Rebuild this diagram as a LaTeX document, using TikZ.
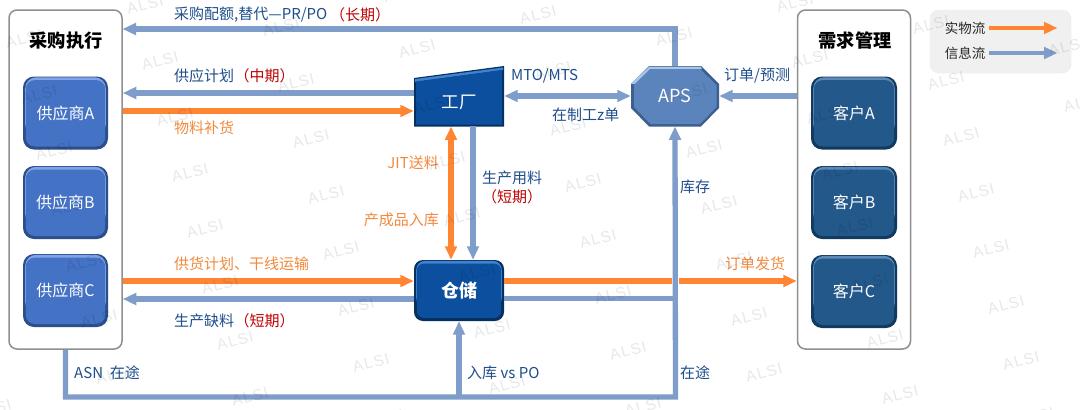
\documentclass[tikz,border=0pt]{standalone}
\usepackage{fontspec}
\setmainfont{Noto Sans CJK SC}
\newfontfamily\wmfont[LetterSpace=8]{Liberation Sans}
\usetikzlibrary{arrows.meta,shapes.misc,calc}
\definecolor{infoc}{HTML}{7F9DCB}
\definecolor{matc}{HTML}{FF8533}
\definecolor{txtblue}{HTML}{1F4E8C}
\definecolor{txtorange}{HTML}{F28A3E}
\definecolor{txtred}{HTML}{C00000}
\definecolor{boxgray}{HTML}{8F8F8F}
\definecolor{supmain}{HTML}{4472C4}
\definecolor{suplight}{HTML}{7FA3E6}
\definecolor{supdark}{HTML}{2C4F8C}
\definecolor{cusmain}{HTML}{23588A}
\definecolor{cuslight}{HTML}{5C8AB8}
\definecolor{cusdark}{HTML}{123A5E}
\definecolor{facmain}{HTML}{0B4F9E}
\definecolor{faclight}{HTML}{3F82CF}
\definecolor{facdark}{HTML}{06305F}
\definecolor{apsmain}{HTML}{5B84BD}
\definecolor{apslight}{HTML}{A9C6EA}
\definecolor{apsdark}{HTML}{3C5F8E}
\tikzset{
  x=1pt,y=-1pt,
  flow/.style={line width=5.3pt},
  tipA/.tip={Triangle[length=13.5pt,width=11.5pt]},
  info/.style={flow,draw=infoc,color=infoc},
  mat/.style={flow,draw=matc,color=matc},
  legendline/.style={line width=4.6pt},
  lbl/.style={inner sep=0pt,anchor=west,font=\fontsize{15}{17}\selectfont},
  bluelbl/.style={lbl,text=txtblue},
  orangelbl/.style={lbl,text=txtorange},
  redlbl/.style={lbl,text=txtred},
  groupbox/.style={draw=boxgray,line width=1.5pt,fill=white,rounded corners=8pt,minimum width=113pt,minimum height=339pt,inner sep=0pt},
  heading/.style={inner sep=0pt,font=\fontsize{18.2}{20}\bfseries\selectfont,text=black},
  bevel/.style n args={5}{rounded corners=#4,draw=none,fill=#3,text=white,inner sep=0pt,
    path picture={
      \fill[#2,rounded corners=#4] ($(path picture bounding box.north west)+(2.2,0.8)$) rectangle ($(path picture bounding box.south east)+(-2.2,-14)$);
      \fill[#1,rounded corners=#5] ($(path picture bounding box.north west)+(2.8,3.6)$) rectangle ($(path picture bounding box.south east)+(-2.8,-3)$);
    }},
  supbox/.style={bevel={supmain}{suplight}{supdark}{11pt}{9pt},minimum width=85pt,minimum height=73pt,font=\fontsize{16}{18}\selectfont},
  cusbox/.style={bevel={cusmain}{cuslight}{cusdark}{11pt}{9pt},minimum width=86pt,minimum height=73pt,font=\fontsize{16}{18}\selectfont},
  wmark/.style={font=\wmfont\fontsize{15.5}{17}\selectfont,text=black,text opacity=.09,rotate=15,inner sep=0pt},
}
\begin{document}
\begin{tikzpicture}
\useasboundingbox (0,0) rectangle (1080,410);
\clip (0,0) rectangle (1080,410);
\fill[white] (0,0) rectangle (1080,410);

% group boxes
\node[groupbox] (buy) at (65.5,179.5) {};
\node[groupbox] (dem) at (854,179.5) {};
\node[heading] (buyh) at (66,41) {采购执行};
\node[heading] (demh) at (855,41) {需求管理};

% suppliers and customers
\node[supbox] (supa) at (65.5,113) {供应商A};
\node[supbox] (supb) at (65.5,202.5) {供应商B};
\node[supbox] (supc) at (65.5,290.5) {供应商C};
\node[cusbox] (cusa) at (854,113) {客户A};
\node[cusbox] (cusb) at (854,202.5) {客户B};
\node[cusbox] (cusc) at (854,291.5) {客户C};

% factory (slanted top)
\fill[facdark] (414,78) -- (504,66) -- (504,126.5) -- (414,126.5) -- cycle;
\fill[faclight] (415,79) -- (503,67.5) -- (503,70) -- (415,82) -- cycle;
\fill[facmain] (416,81.5) -- (502,70) -- (502,124.5) -- (416,124.5) -- cycle;
\node[inner sep=0pt,minimum width=90pt,minimum height=48.5pt,text=white,font=\fontsize{17.5}{20}\selectfont] (factory) at (459,102) {工厂};

% warehouse
\node[bevel={facmain}{faclight}{facdark}{9pt}{7pt},minimum width=90pt,minimum height=61pt,font=\fontsize{18}{20}\bfseries\selectfont] (ware) at (459,290.5) {仓储};

% APS
\fill[apsdark] (649,66) -- (701,66) -- (719,84) -- (719,108) -- (701,126.5) -- (649,126.5) -- (631,108) -- (631,84) -- cycle;
\fill[apslight] (649.5,66.5) -- (700.5,66.5) -- (702,69) -- (650,69) -- (635,84) -- (632,84) -- (632,83) -- cycle;
\fill[apsmain] (650.5,69) -- (700,69) -- (716.5,85) -- (716.5,107) -- (700,124) -- (650.5,124) -- (634,107) -- (634,85) -- cycle;
\node[chamfered rectangle,chamfered rectangle xsep=18pt,chamfered rectangle ysep=18pt,minimum width=88pt,minimum height=60.5pt,inner sep=0pt,text=white,font=\fontsize{18}{20}\selectfont] (aps) at (675,96) {APS};

% helper coordinates
\coordinate (quota) at (122.5,29);
\coordinate (fpw) at ([yshift=9pt]factory.west);
\coordinate (fmw) at ([yshift=-9pt]factory.west);
\coordinate (wmw) at ([yshift=9.5pt]ware.west);
\coordinate (wiw) at ([yshift=-8.5pt]ware.west);
\coordinate (wme) at ([yshift=9.5pt]ware.east);
\coordinate (wie) at ([yshift=-8pt]ware.east);
\coordinate (basebr) at (675.5,397);
\coordinate (cross) at (wme -| aps.south);

% material flows
\draw[mat,-{tipA}] (fmw -| buy.east) -- (fmw);
\draw[mat,-{tipA}] (wmw -| buy.east) -- (wmw);
\draw[mat,-{tipA}] (wme) -- (wme -| dem.west);
\draw[mat,{tipA}-{tipA}] ([xshift=-8pt]factory.south) -- ([xshift=-8pt]ware.north);

% information flows
\draw[white,line width=7pt] ([yshift=5pt]cross) -- ([yshift=-5pt]cross);
\draw[info,-{tipA}] (aps.north) |- (quota);
\draw[info,-{tipA}] (fpw) -- (fpw -| buy.east);
\draw[info,{tipA}-{tipA}] (factory.east |- aps.west) -- (aps.west);
\draw[info,-{tipA}] (aps.east -| dem.west) -- (aps.east);
\draw[info,-{tipA}] ([xshift=14pt]factory.south) -- ([xshift=14pt]ware.north);
\draw[info,-{tipA}] (wiw) -- (wiw -| buy.east);
\draw[info] (wie) -- (wie -| aps.south);
\draw[info,-{tipA}] (buy.south) |- (basebr) -- (aps.south);
\draw[info,-{tipA}] (ware.south |- basebr) -- (ware.south);

% labels
\node[bluelbl] (t1) at (174,15) {采购配额,替代—PR/PO};
\node[redlbl,anchor=west] (t1b) at (t1.east) {\,（长期）};
\node[bluelbl] (t2) at (174,76) {供应计划};
\node[redlbl] (t2b) at (t2.east) {（中期）};
\node[orangelbl] (t3) at (174,128) {物料补货};
\node[bluelbl] (t4) at (511,76) {MTO/MTS};
\node[bluelbl] (t5) at (552,115) {在制工z单};
\node[bluelbl] (t6) at (724,76) {订单/预测};
\node[orangelbl,anchor=east] (t7) at (439,163) {JIT送料};
\node[orangelbl,anchor=east] (t8) at (439,220) {产成品入库};
\node[bluelbl] (t9) at (482,178) {生产用料};
\node[redlbl,anchor=center] (t10) at (512,197) {（短期）};
\node[bluelbl] (t11) at (680,187) {库存};
\node[orangelbl] (t12) at (174,264) {供货计划、干线运输};
\node[bluelbl] (t13) at (174,321) {生产缺料};
\node[redlbl] (t13b) at (t13.east) {（短期）};
\node[orangelbl] (t14) at (725,264) {订单发货};
\node[bluelbl] (t15) at (74,373) {ASN\ \ 在途};
\node[bluelbl] (t16) at (467,373) {入库 vs PO};
\node[bluelbl] (t17) at (680,373) {在途};

% legend
\node[draw=black!8,fill=black!6,rounded corners=9pt,minimum width=141pt,minimum height=63pt,inner sep=0pt] (legend) at (1000.5,41.5) {};
\node[inner sep=0pt,font=\fontsize{13.5}{15}\selectfont,text=black!85] (lm) at (965,28) {实物流};
\node[inner sep=0pt,font=\fontsize{13.5}{15}\selectfont,text=black!85] (li) at (965,53) {信息流};
\coordinate (lme) at (1057.5,28);
\coordinate (lie) at (1057.5,53);
\draw[mat,legendline,-{tipA}] ([xshift=4pt]lm.east) -- (lme);
\draw[info,legendline,-{tipA}] ([xshift=4pt]li.east) -- (lie);

% watermark
\foreach \i in {-3,...,8}{
  \foreach \j in {-5,...,9}{
    \pgfmathsetmacro{\wx}{145+136*\i+15*\j}
    \pgfmathsetmacro{\wy}{5+22*\i+56*\j}
    \pgfmathparse{(\wx>-30 && \wx<1110 && \wy>-20 && \wy<430) ? 1 : 0}
    \ifnum\pgfmathresult=1
      \node[wmark] (wm\i\j) at (\wx,\wy) {ALSI};
    \fi
  }
}
\end{tikzpicture}
\end{document}
